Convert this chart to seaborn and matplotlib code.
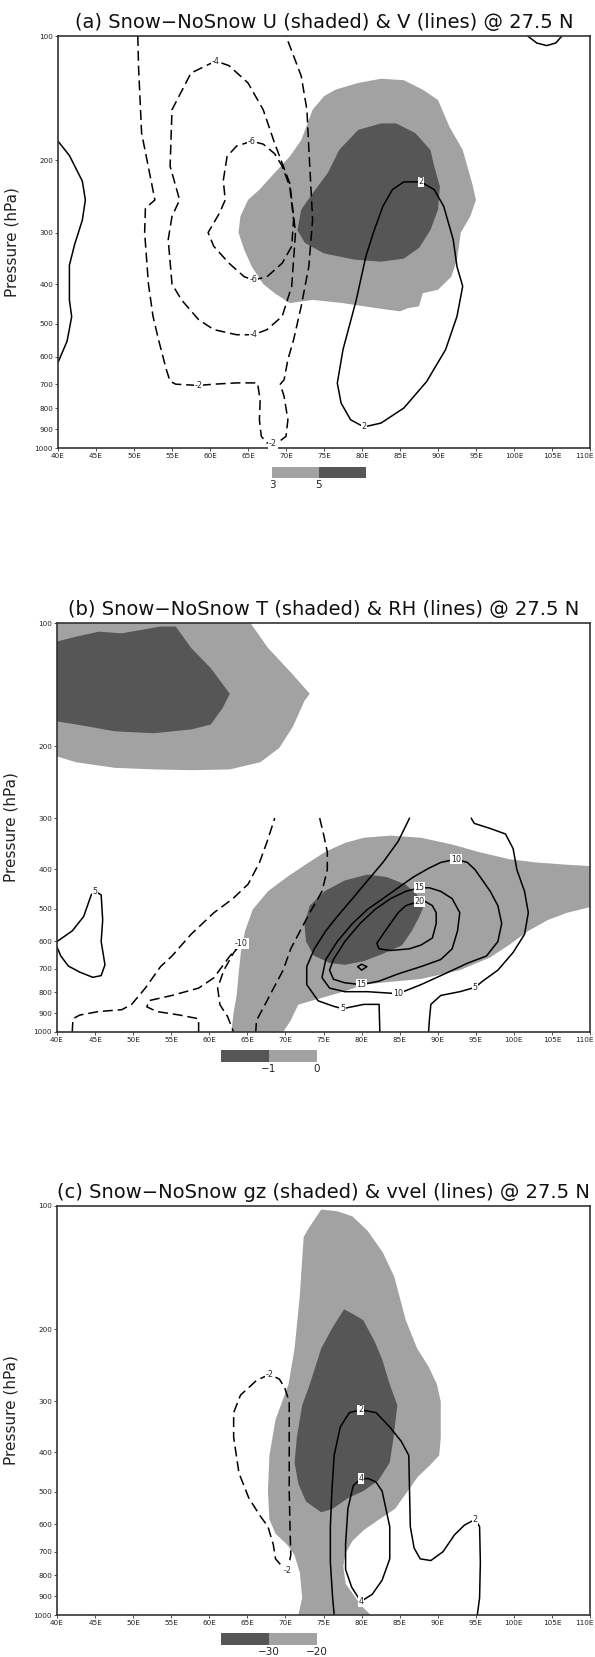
import matplotlib
matplotlib.use("Agg")
import matplotlib as mpl
import matplotlib.pyplot as plt
from matplotlib.colors import ListedColormap, BoundaryNorm
from matplotlib.ticker import NullLocator
from matplotlib.transforms import ScaledTranslation
import seaborn as sns

sns.set_theme(style="white")
plt.rcParams['font.family'] = ['DejaVu Sans']

LIGHT = '#a2a2a2'
DARK = '#565656'

lon_ticks = [40, 45, 50, 55, 60, 65, 70, 75, 80, 85, 90, 95, 100, 105, 110]
lon_labels = [f"{v}E" for v in lon_ticks]
p_ticks = [100, 200, 300, 400, 500, 600, 700, 800, 900, 1000]

# ---------------- Panel (a): U shaded (>3, >5 m/s), V lines ----------------
a_title = "(a) Snow\u2212NoSnow U (shaded) & V (lines) @ 27.5 N"
a_bounds = [3, 5, 7]
a_u_ge3 = [(75, 140), (73.5, 151), (72, 179), (70.5, 196), (68.5, 215), (66.5, 236), (65, 250),
           (64, 274), (63.75, 300), (64.5, 330), (65.5, 363), (67, 400), (68.5, 421), (70.5, 445),
           (73.5, 437), (77.5, 445), (82, 458), (85, 466), (86, 458), (87.5, 453), (88, 421),
           (90, 413), (91.75, 384), (92.5, 349), (93, 300), (94.25, 274), (95, 250), (94.5, 228),
           (93.25, 189), (91.5, 166), (90, 143), (88, 135), (85.5, 128), (82.5, 127), (79.5, 130),
           (76.5, 135)]
a_u_ge5 = [(84.5, 163), (82.5, 163), (79.5, 169), (77, 189), (75.5, 215), (73.5, 241), (72, 264),
           (71.5, 296), (72.5, 318), (75, 337), (79, 349), (82.5, 353), (85.5, 347), (87.5, 327),
           (89, 296), (90, 264), (90.25, 232), (89.5, 207), (89, 189), (87, 172)]
a_v_p2_west = [(40, 180), (41.5, 195), (43.2, 225), (43.6, 250), (43.2, 280), (42.2, 320),
               (41.5, 360), (41.5, 437), (41.8, 480), (41.2, 550), (40.5, 590), (40, 620)]
a_v_p2_ne = [(101.8, 100), (103, 104), (104.3, 105.5), (105.5, 104), (106.3, 100)]
a_v_m2 = [(50.5, 100), (50.6, 119), (51, 172), (52.75, 250), (51.5, 262), (51.4, 300), (51.9, 400),
          (52.5, 479), (53.25, 548), (54.25, 645), (54.75, 689), (55.5, 700), (58.5, 705),
          (60.5, 700), (63.5, 695), (66.25, 695), (66.6, 764), (66.5, 854), (66.75, 937),
          (67.5, 972), (68.25, 975), (69.25, 960), (70, 937), (70.25, 854), (69.75, 750),
          (69.25, 700), (69.75, 683), (70.25, 610), (71, 546), (72, 453), (73, 363), (73.5, 279),
          (73.25, 228), (73, 187), (72.75, 151), (72, 125), (70, 100)]
a_v_m4 = [(60.75, 115), (57.5, 123), (55, 151), (54.75, 207), (56, 250), (55, 274), (54.5, 312),
          (55, 400), (56.25, 437), (58.5, 488), (60.5, 516), (63.5, 531), (65.75, 531),
          (67.5, 516), (69.5, 479), (70.75, 405), (71.25, 300), (70.5, 228), (68.5, 182),
          (67, 151), (65, 130), (62.5, 118)]
a_v_m6 = [(65.5, 180), (63.5, 185), (62.25, 196), (61.75, 224), (62, 250), (61.25, 269),
          (59.75, 300), (60.5, 324), (62.5, 356), (64.5, 384), (65.75, 391), (67.5, 384),
          (69.5, 356), (70.75, 324), (71, 279), (70.5, 232), (69.5, 207), (68.5, 193), (67, 183)]
a_v_p2_east = [(87.75, 226), (85.5, 226), (84, 236), (82.75, 259), (81.5, 300), (80.5, 343),
               (79.25, 437), (77.5, 577), (76.75, 696), (77.25, 778), (78.5, 854), (80.25, 889),
               (82.5, 870), (85.5, 800), (88.5, 690), (91, 577), (92.5, 479), (93.25, 405),
               (92.5, 363), (92, 312), (90.75, 259), (89.5, 236)]

# ---------------- Panel (b): T shaded (<0, <-1 K), RH lines ----------------
b_title = "(b) Snow\u2212NoSnow T (shaded) & RH (lines) @ 27.5 N"
b_bounds = [-2, -1, 0]
b_t_lt0_upper = [(40, 100), (65.4, 100), (67.7, 115), (70.7, 132), (73.2, 149), (72.5, 155),
                 (71, 179), (69.2, 202), (66.7, 219), (62.7, 228), (57.7, 229), (52.7, 228),
                 (47.6, 226), (42.5, 219), (40, 212)]
b_t_ltm1_upper = [(40, 111), (42.5, 108), (45.5, 105), (48.5, 106), (51, 104), (53.6, 102),
                  (55.6, 102), (57.6, 115), (60.2, 129), (62.7, 149), (61.7, 162), (60.2, 177),
                  (57.7, 182), (52.7, 186), (47.6, 184), (42.5, 177), (40, 174)]
b_t_lt0_lower = [(62.9, 1000), (63.2, 895), (63.6, 813), (63.9, 706), (64.2, 626), (64.7, 566),
                 (65.7, 502), (67.7, 453), (70.2, 418), (72.7, 389), (75.2, 363), (77.8, 345),
                 (80.3, 335), (83.8, 331), (87.8, 335), (91.9, 348), (95.4, 363), (99.4, 378),
                 (102.9, 385), (107, 390), (110, 393), (110, 495), (107, 511), (104.5, 532),
                 (101.9, 566), (99.4, 612), (96.9, 657), (92.9, 706), (87.8, 742), (82.8, 757),
                 (80.3, 766), (77.8, 795), (74.2, 831), (71.7, 857), (71.2, 895), (70.7, 937),
                 (69.7, 1000)]
b_t_ltm1_lower = [(80.8, 412), (77.8, 426), (75.2, 452), (73.2, 491), (72.5, 544), (72.7, 600),
                  (73.7, 650), (75.8, 678), (77.8, 685), (80.3, 671), (82.8, 644), (85.3, 614),
                  (86.6, 566), (87.6, 522), (88.1, 496), (87.3, 462), (85.8, 436), (83.3, 418)]
b_rh_p5_west = [(40, 601), (42, 566), (43.5, 522), (44.5, 462), (45, 453), (45.8, 462), (46, 532),
                (45.8, 601), (46.3, 685), (45.8, 728), (44.7, 735), (43, 714), (41.5, 690),
                (40.5, 652), (40, 620)]
b_rh_m5_west = [(42, 1000), (42.1, 928), (43, 909), (45.5, 891), (48.5, 882), (49.8, 856),
                (51.6, 781), (53.6, 692), (55.1, 652), (57.6, 577), (60.6, 511), (63.1, 472),
                (65.1, 435), (66.6, 385), (67.6, 342), (68.6, 300)]
b_rh_m10 = [(58.6, 1000), (58.6, 928), (56.1, 909), (53.1, 891), (51.8, 868), (52.1, 838),
            (55.1, 814), (58.6, 781), (60.6, 737), (62.7, 652), (64.2, 607), (63.2, 640),
            (61.9, 707), (61.1, 781), (61.4, 858), (62.4, 917), (63.2, 1000)]
b_rh_m5_east = [(74.5, 300), (75, 328), (75.5, 363), (75.5, 401), (74.8, 453), (73.2, 511),
                (72.2, 554), (70.7, 626), (69.7, 706), (68.2, 797), (67.2, 865), (66.2, 937),
                (66.1, 1000)]
b_rh_p5_a = [(86.3, 300), (84.8, 342), (82.8, 385), (80.8, 426), (78.8, 472), (76.8, 522),
             (75.3, 566), (73.8, 626), (72.8, 692), (72.8, 766), (74.3, 839), (76.3, 865),
             (77.5, 877), (80.3, 856), (82.3, 856), (82.4, 1000)]
b_rh_p5_b = [(94.4, 300), (94.8, 309), (96.9, 318), (98.9, 328), (99.9, 356), (100.4, 401),
             (101.4, 453), (101.9, 511), (101.4, 577), (99.9, 639), (97.9, 706), (95.9, 751),
             (94.9, 778), (92.9, 797), (90.4, 814), (89.1, 856), (88.9, 937), (88.8, 1000)]
b_rh_p10 = [(92.4, 378), (90.4, 385), (88.8, 398), (86.8, 418), (84.8, 444), (82.8, 472),
            (80.8, 501), (78.8, 543), (76.8, 601), (75.3, 665), (74.8, 736), (75.8, 781),
            (77.8, 797), (80.8, 797), (84.8, 806), (87.8, 766), (90.9, 721), (93.9, 679),
            (96.4, 652), (97.9, 601), (98.4, 543), (97.9, 491), (96.9, 453), (95.9, 426),
            (94.9, 401), (93.9, 385)]
b_rh_p15 = [(87.6, 444), (85.8, 453), (83.8, 472), (81.8, 501), (79.8, 543), (77.8, 601),
            (76.3, 665), (75.8, 706), (76.3, 743), (77.8, 758), (80, 766), (82.3, 751),
            (84.8, 721), (87.8, 692), (90.4, 665), (91.9, 626), (92.6, 566), (92.9, 511),
            (91.9, 472), (90.4, 453), (88.9, 444)]
b_rh_p20 = [(87.6, 479), (85.8, 491), (84.8, 511), (83.8, 543), (82.8, 577), (82, 607),
            (82.3, 626), (83.8, 632), (86.3, 626), (87.8, 613), (89.3, 589), (89.8, 543),
            (89.8, 511), (89.3, 491), (88.3, 479)]
b_rh_p20_small = [(79.5, 692), (80, 683), (80.7, 692), (80, 706)]

# ---------------- Panel (c): gz shaded (<-20, <-30), vvel lines ----------------
c_title = "(c) Snow\u2212NoSnow gz (shaded) & vvel (lines) @ 27.5 N"
c_bounds = [-40, -30, -20]
c_gz_ltm20 = [(74.7, 102), (73.1, 113), (72.4, 119), (72.2, 135), (71.9, 165), (71.2, 223),
              (70.4, 273), (68.7, 333), (67.9, 407), (67.7, 498), (67.9, 584), (68.7, 633),
              (70.2, 672), (71.2, 714), (71.9, 789), (72.2, 908), (71.7, 1000), (81.2, 1000),
              (79.9, 946), (78.9, 890), (77.9, 838), (77.6, 759), (77.9, 707), (78.8, 659),
              (80.3, 620), (82.3, 584), (84.4, 550), (85.4, 518), (86.4, 488), (87.4, 459),
              (88.9, 432), (90.2, 407), (90.4, 368), (90.4, 301), (89.9, 273), (88.8, 247),
              (87.3, 223), (85.8, 190), (84.3, 149), (82.8, 130), (80.8, 115), (78.8, 106),
              (76.8, 103)]
c_gz_ltm30 = [(77.7, 179), (76.2, 198), (74.7, 223), (73.2, 273), (72.2, 307), (71.5, 368),
              (71.2, 424), (71.7, 478), (72.7, 528), (74.7, 561), (76.2, 550), (78.2, 518),
              (80.2, 498), (82.2, 469), (83.7, 424), (84.2, 368), (84.7, 307), (83.7, 273),
              (82.7, 237), (81.7, 214), (80.2, 190), (78.7, 183)]
c_w_m2 = [(67.9, 258), (66.2, 267), (64.1, 290), (63.2, 320), (63.2, 368), (63.9, 450),
          (65.2, 518), (66.7, 573), (67.7, 608), (68.4, 672), (68.7, 729), (69.7, 766),
          (70.3, 777), (70.7, 714), (70.6, 608), (70.5, 498), (70.5, 333), (70.5, 301),
          (69.9, 278), (69.2, 265)]
c_w_p2 = [(76.4, 1000), (76.2, 908), (75.9, 743), (75.9, 608), (76.1, 498), (76.4, 407),
          (77.2, 347), (78.4, 320), (79.9, 315), (81.9, 320), (83.7, 347), (85.2, 376),
          (86.2, 407), (86.3, 498), (86.4, 608), (86.9, 686), (87.7, 729), (89.1, 736),
          (90.7, 700), (92.2, 637), (93.5, 603), (94.9, 584), (95.5, 608), (95.6, 743),
          (95.5, 908), (95.2, 1000)]
c_w_p4 = [(79.9, 464), (78.9, 483), (78.2, 550), (77.9, 672), (77.9, 774), (78.7, 855),
          (79.9, 927), (81.4, 890), (82.7, 822), (83.7, 729), (83.7, 608), (83.2, 550),
          (82.7, 498), (81.9, 473), (80.9, 464)]

# (level, contour, closed, indices of labelled vertices)
panels = [
    dict(title=a_title, bounds=a_bounds, colors=[LIGHT, DARK], cb_ticks=[3, 5],
         fills=[(a_u_ge3, LIGHT), (a_u_ge5, DARK)],
         lines=[(2, a_v_p2_west, False, []), (2, a_v_p2_ne, False, []),
                (-2, a_v_m2, False, [12, 20]), (-4, a_v_m4, True, [0, 12]),
                (-6, a_v_m6, True, [0, 10]), (2, a_v_p2_east, True, [0, 11])],
         rect=(58, 36, 590, 448), cbrect=(272, 467, 366, 478)),
    dict(title=b_title, bounds=b_bounds, colors=[DARK, LIGHT], cb_ticks=[-1, 0],
         fills=[(b_t_lt0_upper, LIGHT), (b_t_ltm1_upper, DARK),
                (b_t_lt0_lower, LIGHT), (b_t_ltm1_lower, DARK)],
         lines=[(5, b_rh_p5_west, False, [4]), (-5, b_rh_m5_west, False, []),
                (-10, b_rh_m10, False, [10]), (-5, b_rh_m5_east, False, []),
                (5, b_rh_p5_a, False, [12]), (5, b_rh_p5_b, False, [12]),
                (10, b_rh_p10, True, [0, 14]), (15, b_rh_p15, True, [0, 10]),
                (20, b_rh_p20, True, [0]), (20, b_rh_p20_small, True, [])],
         rect=(57, 623, 590, 1032), cbrect=(221, 1050, 317, 1062)),
    dict(title=c_title, bounds=c_bounds, colors=[DARK, LIGHT], cb_ticks=[-30, -20],
         fills=[(c_gz_ltm20, LIGHT), (c_gz_ltm30, DARK)],
         lines=[(-2, c_w_m2, True, [0, 12]), (2, c_w_p2, False, [8, 21]),
                (4, c_w_p4, True, [0, 6])],
         rect=(57, 1206, 590, 1615), cbrect=(221, 1633, 317, 1645)),
]

W, H = 595, 1657
fig = plt.figure(figsize=(W / 100, H / 100), dpi=100)


def frac(r):
    x0, y0, x1, y1 = r
    return [x0 / W, 1 - y1 / H, (x1 - x0) / W, (y1 - y0) / H]


for pan in panels:
    ax = fig.add_axes(frac(pan['rect']))
    for pts, col in pan['fills']:
        lon, p = zip(*pts)
        ax.fill(lon, p, color=col, lw=0, zorder=1)
    for level, pts, closed, lab in pan['lines']:
        lon, p = map(list, zip(*pts))
        if closed:
            lon.append(lon[0])
            p.append(p[0])
        ls = (0, (6.5, 3.2)) if level < 0 else '-'
        sns.lineplot(x=lon, y=p, sort=False, estimator=None, ax=ax, color='black',
                     lw=1.1, linestyle=ls, zorder=2)
        for i in lab:
            ax.text(lon[i], p[i], f"{level:g}", fontsize=5.8, ha='center', va='center',
                    zorder=3, bbox=dict(boxstyle='square,pad=0.1', fc='white', ec='none'))
    ax.set_yscale('log')
    ax.set_xlim(40, 110)
    ax.set_ylim(1000, 100)
    ax.set_xticks(lon_ticks)
    ax.set_xticklabels(lon_labels)
    ax.set_yticks(p_ticks)
    ax.set_yticklabels([str(v) for v in p_ticks])
    ax.yaxis.set_minor_locator(NullLocator())
    ax.tick_params(axis='both', which='major', bottom=True, left=True, direction='out',
                   length=2.5, width=0.6, color='#333333', labelsize=5.2, pad=1,
                   labelcolor='#222222')
    last = ax.get_xticklabels()[-1]
    last.set_transform(last.get_transform() + ScaledTranslation(-6 / 100, 0, fig.dpi_scale_trans))
    ax.set_xlabel('')
    ax.set_ylabel('Pressure (hPa)', fontsize=11, color='#222222')
    ax.yaxis.set_label_coords(-0.072, 0.5)
    for s in ax.spines.values():
        s.set_color('#333333')
        s.set_linewidth(1.2)
    ax.set_title(pan['title'], fontsize=14, pad=6, color='#111111')

    cax = fig.add_axes(frac(pan['cbrect']))
    cb = mpl.colorbar.ColorbarBase(cax, cmap=ListedColormap(pan['colors']),
                                   norm=BoundaryNorm(pan['bounds'], 2),
                                   orientation='horizontal', ticks=pan['cb_ticks'])
    cb.outline.set_visible(False)
    cax.minorticks_off()
    cax.tick_params(which='both', length=0, width=0, labelsize=7.5, pad=1.5,
                    labelcolor='#222222', left=False, right=False, top=False)
    cax.set_yticks([])
    for s in cax.spines.values():
        s.set_visible(False)

fig.savefig('out.png', dpi=100)
